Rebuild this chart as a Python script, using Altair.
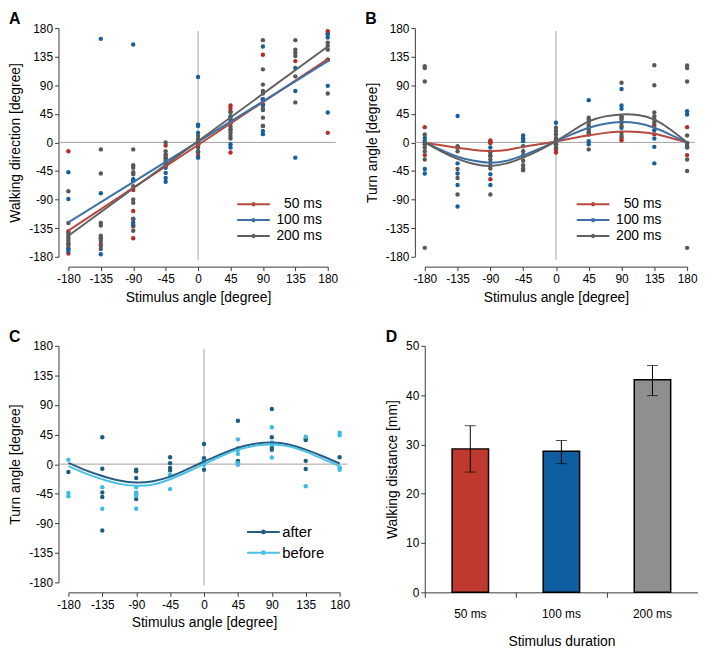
import altair as alt
import pandas as pd

FONT = "Liberation Sans"
ANGLES = [-180, -135, -90, -45, 0, 45, 90, 135, 180]
DURATIONS = ["50 ms", "100 ms", "200 ms"]
CONDITIONS = ["after", "before"]

# ---------- Panel A: walking direction (points per stimulus angle) ----------
A_50 = [[-14, -140, -168, -175], [-150, -160], [-75, -108, -132, -151], [-5, -20, -32],
        [0, -3, -21], [58, 54, 49, 30, -16], [138, 68, 60, 26], [128], [175, 172, 130, 15]]
A_100 = [[-47, -89, -160, -167, -171], [163, -80, -176], [154, -58, -61, -120, -126, -130],
         [-25, -40, -48, -56, -62], [103, 28, 26, 15, -14, -24], [41, 36, 20, -3, -8],
         [151, 68, 58, 51, 18, 13], [117, 81, -24], [170, 165, 89, 47]]
A_200 = [[-77, -127, -143, -147, -151, -155, -159, -163],
         [-11, -49, -127, -131, -147, -151, -155, -163, -168],
         [-11, -36, -40, -47, -50, -69, -90, -95, -121, -139],
         [0, -14, -19, -24, -29, -33, -37], [10, 5, 2, -2, -5, -8, -16],
         [47, 39, 31, 25, 20, 15, 10, 6], [161, 115, 91, 81, 77, 53, 39, 26],
         [161, 146, 141, 136, 104, 63], [157, 152, 146, 130, 77]]
FIT_X = [-180, 180]
A_FIT_50 = [-139, 131]
A_FIT_100 = [-126, 128]
A_FIT_200 = [-147, 151]

# ---------- Panel B: turn angle ----------
B_50 = [[24, -20], [-8], [3, 1, 0, -1, -58], [6], [-11, -16], [12.5], [3.5, 7], [27, 12.6], [24, -20]]
B_100 = [[7, 2, -2, -42, -49], [41.5, -33, -49, -67, -101], [-8, -21, -32, -50, -67],
         [11, 6, 2, -6, -20], [31, -3], [66.5, 23, 15, 2, -3], [84, 58, 53, 39, 23],
         [19, 6, -7, -33], [49, 44, -1, -8]]
B_200 = [[120, 117, 96, 12.6, -3, -8, -14, -27, -166], [-6, -8, -14, -42, -56, -82],
         [-16, -21, -27, -37, -41, -82], [-14, -21, -29, -36, -41, -44],
         [23, 18, 13, 7, 5, 2, -3, -8], [39, 36, 32, 27, 20, 16, -11],
         [94, 41, 36, 31, 26, 15, 10], [121.5, 90, 47, 41, 36, 31],
         [121, 117, 96, 11, -2, -6, -27, -45, -166]]
CURVE_X = [-180, -157.5, -135, -112.5, -90, -67.5, -45, -22.5, 0,
           22.5, 45, 67.5, 90, 112.5, 135, 157.5, 180]
B_CURVE_50 = [0, -4.5, -8.5, -12, -13.5, -12, -7, -3, 1.5, 6.5, 11, 15, 17, 16.5, 13.5, 7, 0]
B_CURVE_100 = [0, -12, -22.5, -29, -32, -29, -20.5, -10, 1.5, 13, 23, 29.5, 32, 30, 23, 12, 0]
B_CURVE_200 = [0, -14, -26, -34, -37, -33, -24, -12, 2, 18, 33, 41, 44, 43, 36, 20, 0]

# ---------- Panel C: before / after ----------
C_AFTER = [[-12], [41, -7, -43, -50, -101], [-8.5, -11, -21, -45, -53], [10.5, 1.5, -6, -9.5],
           [30.6, 9, 5.5, -8.5], [66, 24, 5, 3], [84, 41, 25, 22], [39, 36.7, 5, -7.5], [10.5]]
C_BEFORE = [[6.5, -44, -49], [-35, -68], [-35, -43, -48, -68], [-16, -38], [4, -1],
            [37.7, 21.6, 15.6, 1.5, -1], [56, 33, 30, 10], [41.7, -33.7], [48, 44, -5, -8.5]]
C_CURVE_AFTER = [2, -9, -18, -25, -28, -26, -19, -8, 4, 15, 25, 31, 33, 30, 22, 12, 1]
C_CURVE_BEFORE = [-3, -14, -23, -30, -33, -31, -23, -12, 0, 12, 22, 28, 30, 27, 19, 8, -3]

# ---------- Panel D: walking distance ----------
D_MEAN = [29.1, 28.6, 43.1]
D_LO = [24.4, 26.1, 39.9]
D_HI = [33.8, 30.8, 46.0]

PT_COLORS = ["#b3302a", "#17609b", "#595959"]
LN_COLORS = ["#b8493f", "#3d71a5", "#606060"]
C_PT_COLORS = ["#1b5d7c", "#3bbce6"]
C_LN_COLORS = ["#255d85", "#4cc0e6"]
BAR_COLORS = ["#c0392f", "#0f5fa0", "#8f8f8f"]


def points_df(series, colors):
    rows = []
    for (name, cols), col in zip(series, colors):
        for ang, vals in zip(ANGLES, cols):
            for v in vals:
                rows.append({"angle": ang, "value": v, "series": name, "pcolor": col})
    df = pd.DataFrame(rows)
    df["ord"] = range(len(df))
    return df


def curve_df(xs, series):
    rows = []
    for name, vals in series:
        for a, v in zip(xs, vals):
            rows.append({"angle": a, "value": v, "series": name})
    return pd.DataFrame(rows)


def legend_path(half_len, dot_r, side):
    u = side / 2.0
    h = half_len / u
    r = dot_r / u
    return (f"M{-h:.3f},0L{h:.3f},0M{r:.3f},0A{r:.3f},{r:.3f},0,1,1,{-r:.3f},0"
            f"A{r:.3f},{r:.3f},0,1,1,{r:.3f},0Z")


def ang_x():
    return alt.X("angle:Q", scale=alt.Scale(domain=[-180, 180], nice=False, zero=False),
                 axis=alt.Axis(values=ANGLES, title="Stimulus angle [degree]", offset=10,
                               labelExpr="'' + datum.value", tickSize=4, labelPadding=3,
                               titlePadding=6, grid=False, titleFontWeight="normal",
                               labelOverlap=False, labelFlush=False))


def ang_y(title):
    return alt.Y("value:Q", scale=alt.Scale(domain=[-180, 180], nice=False, zero=False),
                 axis=alt.Axis(values=ANGLES, title=title, offset=10,
                               labelExpr="'' + datum.value", tickSize=4, labelPadding=2,
                               titlePadding=6, grid=False, titleFontWeight="normal",
                               labelOverlap=False, labelFlush=False))


def panel_title(letter):
    return alt.TitleParams(text=letter, anchor="start", frame="bounds", fontSize=16,
                           fontWeight="bold", font=FONT, color="black", offset=-5)


def angle_panel(letter, ytitle, pts, curves, domain, ln_colors, W, H, legend, interp):
    X = ang_x()
    Y = ang_y(ytitle)
    zero = pd.DataFrame({"angle": [0], "value": [0]})
    hz = alt.Chart(zero).mark_rule(color="#a0a0a0", strokeWidth=1).encode(
        y=Y, x=alt.value(-10), x2=alt.value(W + 8))
    vz = alt.Chart(zero).mark_rule(color="#a0a0a0", strokeWidth=1).encode(
        x=X, y=alt.value(3), y2=alt.value(H + 3))
    p = alt.Chart(pts).mark_circle(size=20, opacity=1).encode(
        x=X, y=Y, fill=alt.Fill("pcolor:N", scale=None), order=alt.Order("ord:Q"))
    ln = alt.Chart(curves).mark_line(strokeWidth=2, interpolate=interp).encode(
        x=X, y=Y,
        stroke=alt.Stroke("series:N", scale=alt.Scale(domain=domain, range=ln_colors),
                          legend=legend))
    return alt.layer(hz, vz, p, ln).properties(width=W, height=H, title=panel_title(letter))


def dur_legend(lx, ly):
    return alt.Legend(orient="none", legendX=lx, legendY=ly, title=None,
                      symbolType=legend_path(16.5, 1.2, 16), symbolSize=256,
                      symbolStrokeWidth=2, labelFontSize=14, labelFont=FONT,
                      labelColor="black", labelAlign="right", labelOffset=60,
                      rowPadding=0, padding=0)


dfA = points_df([("50 ms", A_50), ("100 ms", A_100), ("200 ms", A_200)], PT_COLORS)
lnA = curve_df(FIT_X, [("50 ms", A_FIT_50), ("100 ms", A_FIT_100), ("200 ms", A_FIT_200)])
chartA = angle_panel("A", "Walking direction [degree]", dfA, lnA, DURATIONS,
                     LN_COLORS, 262, 231, dur_legend(178, 169), "linear")

dfB = points_df([("50 ms", B_50), ("100 ms", B_100), ("200 ms", B_200)], PT_COLORS)
lnB = curve_df(CURVE_X, [("50 ms", B_CURVE_50), ("100 ms", B_CURVE_100), ("200 ms", B_CURVE_200)])
chartB = angle_panel("B", "Turn angle [degree]", dfB, lnB, DURATIONS,
                     LN_COLORS, 265, 231, dur_legend(161, 169), "natural")

dfC = points_df([("after", C_AFTER), ("before", C_BEFORE)], C_PT_COLORS)
lnC = curve_df(CURVE_X, [("after", C_CURVE_AFTER), ("before", C_CURVE_BEFORE)])
legC = alt.Legend(orient="none", legendX=186, legendY=177, title=None,
                  symbolType=legend_path(16.5, 1.4, 20), symbolSize=400,
                  symbolStrokeWidth=2, labelFontSize=15, labelFont=FONT,
                  labelColor="black", labelOffset=8, rowPadding=2, padding=0)
chartC = angle_panel("C", "Turn angle [degree]", dfC, lnC, CONDITIONS,
                     C_LN_COLORS, 274, 239, legC, "natural")

# ---------- Panel D ----------
dfD = pd.DataFrame({"duration": DURATIONS, "distance": D_MEAN, "lo": D_LO, "hi": D_HI})
XD = alt.X("duration:N", sort=DURATIONS, scale=alt.Scale(paddingInner=0, paddingOuter=0),
           axis=alt.Axis(title="Stimulus duration", bandPosition=0, labelAngle=0,
                         tickSize=5, labelPadding=11, titlePadding=16,
                         titleFontWeight="normal"))
YD = alt.Y("distance:Q", scale=alt.Scale(domain=[0, 50], nice=False),
           axis=alt.Axis(values=list(range(0, 55, 5)), title="Walking distance [mm]",
                         tickSize=4, labelPadding=2, titlePadding=6, grid=False,
                         titleFontWeight="normal", labelFlush=False))
bars = alt.Chart(dfD).mark_bar(width=alt.RelativeBandSize(0.4), stroke="black",
                               strokeWidth=1.5).encode(
    x=XD, y=YD,
    fill=alt.Fill("duration:N", scale=alt.Scale(domain=DURATIONS, range=BAR_COLORS), legend=None))
err = alt.Chart(dfD).mark_rule(color="black", strokeWidth=1).encode(
    x=XD, y=alt.Y("lo:Q"), y2="hi:Q")
cap_lo = alt.Chart(dfD).mark_tick(color="black", thickness=1, size=11).encode(x=XD, y=alt.Y("lo:Q"))
cap_hi = alt.Chart(dfD).mark_tick(color="black", thickness=1, size=11).encode(x=XD, y=alt.Y("hi:Q"))
chartD = alt.layer(bars, err, cap_lo, cap_hi).properties(
    width=276, height=249, title=panel_title("D"))

top = alt.hconcat(chartA, chartB, spacing=26).resolve_scale(stroke="independent")
bottom = alt.hconcat(chartC, chartD, spacing=35).resolve_scale(
    fill="independent", stroke="independent")
chart = alt.vconcat(top, bottom, spacing=25).resolve_scale(
    fill="independent", stroke="independent").properties(
    padding={"left": 0, "top": 0, "right": 0, "bottom": 0}, background="white"
).configure_view(stroke=None).configure_axis(
    labelFont=FONT, titleFont=FONT, labelFontSize=12, titleFontSize=14,
    titleFontWeight="normal", labelColor="black", titleColor="black",
    domainColor="#3a3a3a", tickColor="#3a3a3a")

chart.save("out.html", embed_options={"renderer": "svg", "actions": False})
